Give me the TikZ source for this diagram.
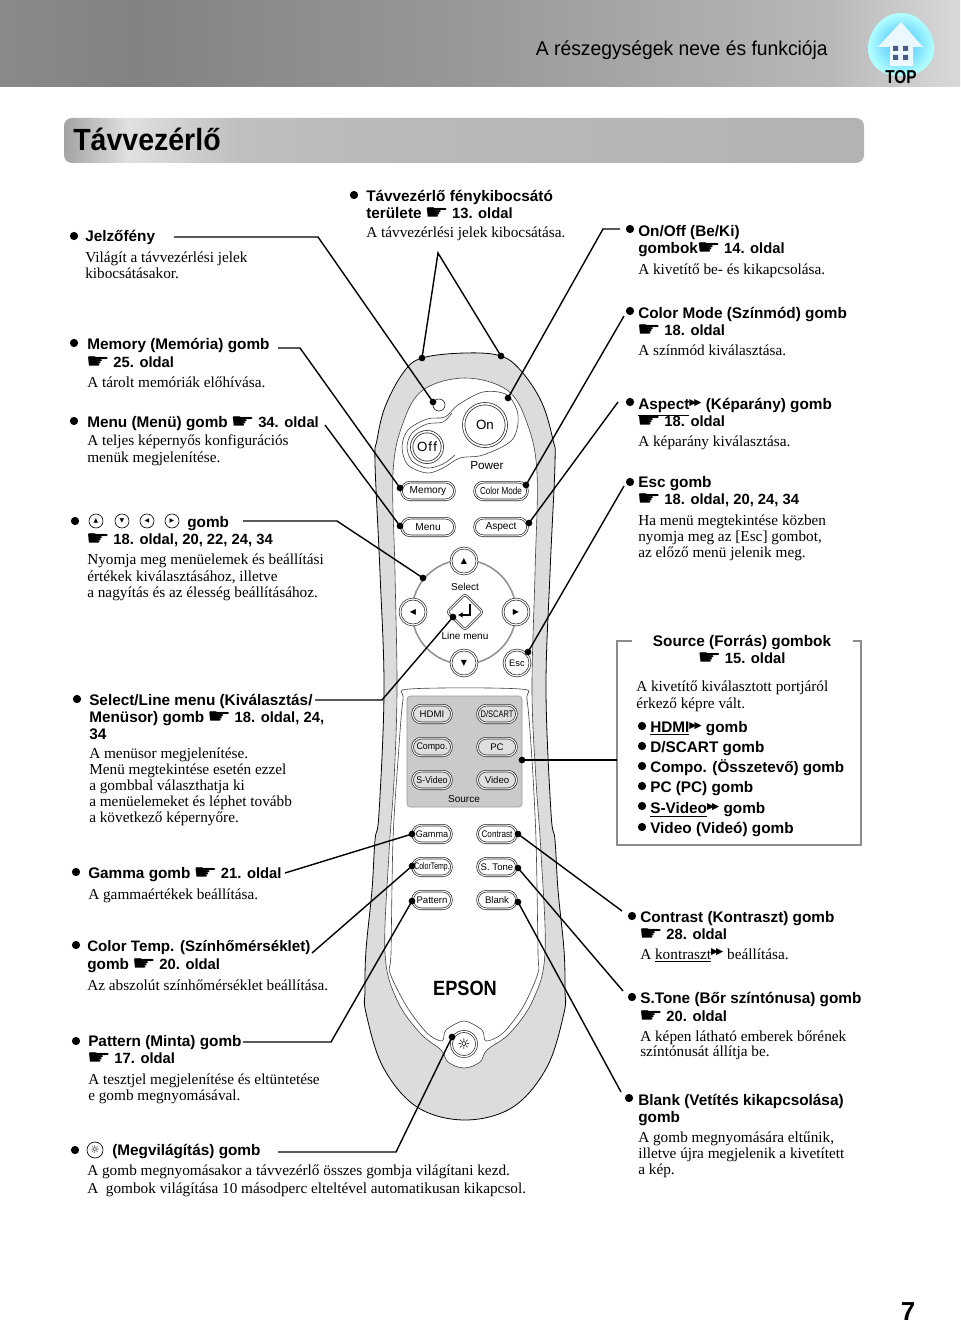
\documentclass[tikz,border=0pt]{standalone}
\usepackage{fontspec}
\usepackage{graphicx}
\usetikzlibrary{shapes.misc,shapes.geometric,arrows.meta}
\setmainfont{Liberation Sans}
\newfontfamily\serf{Liberation Serif}
\newfontfamily\symf{DejaVu Sans}
\definecolor{bodygray}{HTML}{DCDCDC}
\definecolor{panelgray}{HTML}{C9CACC}
\definecolor{boxgray}{HTML}{8C8C8C}
\pgfdeclarehorizontalshading{hdrshade}{100bp}{color(0bp)=(black!46!white); color(25bp)=(black!46!white); color(32bp)=(black!49!white); color(50bp)=(black!40!white); color(68bp)=(black!28!white); color(75bp)=(black!15!white); color(100bp)=(black!15!white)}
\pgfdeclarehorizontalshading{titleshade}{100bp}{color(0bp)=(black!36!white); color(25bp)=(black!36!white); color(29bp)=(black!12!white); color(36bp)=(black!25!white); color(43bp)=(black!27!white); color(75bp)=(black!30!white); color(100bp)=(black!30!white)}
\newcommand\hd{{\symf\fontsize{15.5}{15}\selectfont\kern-1pt\raisebox{-0.8pt}{\scalebox{1.3}[1]{☛}}\kern-0.6pt}}
\newcommand\ol[1]{{\fontsize{11.1}{13}\selectfont #1}}
\newcommand\dbl{{\symf\fontsize{7}{7}\selectfont\raisebox{3.5pt}{▶\kern-1.6pt▶}}}
\tikzset{
 x=0.75pt,y=-0.75pt,
 bd/.style={anchor=base west,inner sep=0pt,yshift=-0.6pt,font=\fontsize{11.5}{13}\selectfont\bfseries},
 sf/.style={anchor=base west,inner sep=0pt,yshift=-0.8pt,font=\serf\fontsize{11.45}{13}\selectfont},
 bullet/.style={circle,fill=black,inner sep=0pt,minimum size=6.2pt},
 pin/.style={circle,fill=black,inner sep=0pt,minimum size=5pt},
 conn/.style={line width=1.05pt,black},
 pill/.style 2 args={rounded rectangle,draw=black!85,double=white,double distance=0.8pt,line width=0.5pt,fill=#2,inner sep=0pt,minimum height=13.2pt,minimum width=#1*0.75pt,font=\fontsize{7.6}{8}\selectfont},
 smallpill/.style={font=\fontsize{7.2}{8}\selectfont},
 rbtn/.style={circle,draw=black!85,double=white,double distance=0.9pt,line width=0.5pt,fill=white,inner sep=0pt,minimum size=#1*1.5pt,font=\symf\fontsize{6}{7}\selectfont},
 mini/.style={circle,draw=black,line width=0.5pt,inner sep=0pt,minimum size=10.5pt,font=\symf\fontsize{4.5}{5}\selectfont},
 thinl/.style={line width=0.45pt,draw=black!75},
 rem/.style={inner sep=0pt,font=\fontsize{7.5}{8}\selectfont},
}
\newcommand\bt[4]{\node[bd] (#1) at (#2,#3) {#4};}
\newcommand\st[4]{\node[sf] (#1) at (#2,#3) {#4};}
\newcommand\bu[3]{\node[bullet] (#1) at (#2,#3) {};}
\newcommand\pn[3]{\node[pin] (#1) at (#2,#3) {};}
\begin{document}
\begin{tikzpicture}
\useasboundingbox (0,0) rectangle (960,1323);
% header
\shade[shading=hdrshade] (0,0) rectangle (960,87);
\node[anchor=base east,inner sep=0pt,font=\fontsize{15}{16}\selectfont] (hdr) at (828,56) {\scalebox{0.965}[1]{A részegységek neve és funkciója}};
% TOP icon
\shade[inner color=cyan!65!blue!75!white,outer color=cyan!30!white] (901,13) .. controls (922,13) and (934,34) .. (934,48) .. controls (934,66) and (920,76) .. (901,76) .. controls (882,76) and (868,66) .. (868,48) .. controls (868,34) and (880,13) .. (901,13) -- cycle;
\fill[white!92!cyan] (901,22) -- (923,47) -- (913,47) -- (913,66) -- (890,66) -- (890,47) -- (878,47) -- cycle;
\fill[cyan!40!blue!60!black] (893,46) rectangle (898,51) (903,46) rectangle (908,51) (893,55) rectangle (898,60) (903,55) rectangle (908,60);
\node[inner sep=0pt,font=\fontsize{14}{14}\selectfont\bfseries] (toplabel) at (901,77) {\scalebox{0.82}[1]{TOP}};
% title bar
\shade[shading=titleshade,rounded corners=6pt] (64,118) rectangle (864,163);
\node[anchor=base west,inner sep=0pt,font=\fontsize{23}{24}\selectfont\bfseries] (title) at (73,151) {\scalebox{0.93}[1]{Távvezérlő}};
% remote body
\draw[fill=bodygray,line width=0.6pt,draw=black] plot[smooth cycle,tension=0.6] coordinates {(465,353)(501,356)(522,372)(542,403)(553,440)(555,463)(550,573)(546,690)(551,813)(555,840)(558,890)(564,950)(565,990)(564,1013)(547,1067)(513,1107)(465,1120)(417,1107)(383,1067)(366,1013)(365,990)(366,950)(372,890)(375,840)(379,813)(384,690)(380,573)(375,463)(377,440)(385,407)(403,373)(422,358)};
\draw[fill=white,thinl] plot[smooth cycle,tension=0.6] coordinates {(465,378)(507,390)(527,423)(537,473)(535,573)(532,690)(536,780)(541,853)(545,953)(533,1000)(510,1033)(487,1050)(480,1062)(464,1068)(448,1062)(441,1050)(420,1033)(397,1000)(385,953)(389,853)(394,780)(397,690)(395,573)(393,473)(403,423)(423,390)};
\draw[fill=white,thinl] plot[smooth cycle,tension=0.5] coordinates {(464,1021)(482,1030)(486,1041)(503,1033)(523,1007)(538,973)(538,953)(536,840)(532,760)(527,700)(520,689)(410,689)(403,700)(398,760)(393,840)(391,953)(390,973)(407,1007)(427,1033)(442,1041)(446,1030)};
% power area
\draw[thinl] plot[smooth cycle,tension=0.55] coordinates {(402,447)(408,430)(427,419)(445,417)(458,405)(483,392)(507,395)(518,415)(512,440)(483,455)(460,458)(443,468)(427,473)(408,465)};
\draw[thinl] plot[smooth,tension=0.55] coordinates {(452,413)(443,422)(427,424)(412,433)(407,447)(412,461)(427,468)(443,464)(455,455)};
\node[circle,draw=black!85,line width=0.5pt,inner sep=0pt,minimum size=9pt] (led) at (439,405) {};
\node[circle,draw=black!85,double=white,double distance=1.2pt,line width=0.55pt,fill=white,inner sep=0pt,minimum size=32pt,font=\fontsize{10}{11}\selectfont] (on) at (485,425) {On};
\node[circle,draw=black!85,double=white,double distance=1.2pt,line width=0.55pt,fill=white,inner sep=0pt,minimum size=23pt,font=\fontsize{10}{11}\selectfont] (off) at (427,447) {O\kern0.8pt f\kern0.8pt f};
\node[rem,font=\fontsize{8.8}{9}\selectfont] (power) at (487,466) {Power};
\node[pill={53}{white}] (memory) at (428,491) {Memory};
\node[pill={53}{white}] (colormode) at (501,491) {\scalebox{0.8}[1]{Color Mode}};
\node[pill={53}{white}] (menu) at (428,527) {Menu};
\node[pill={53}{white}] (aspect) at (501,527) {Aspect};
% select ring
\node[circle,draw=black!42,line width=1.2pt,inner sep=0pt,minimum size=78pt] (ring) at (464,612) {};
\node[rbtn=13] (up) at (464,561) {▲};
\node[rbtn=13] (down) at (464,663) {▼};
\node[rbtn=13] (left) at (413,612) {◀};
\node[rbtn=13] (right) at (516,612) {▶};
\node[rbtn=13,font=\fontsize{7}{8}\selectfont] (esc) at (517,663) {Esc};
\node[diamond,draw=black!85,double=white,double distance=0.8pt,line width=0.5pt,fill=white,inner sep=0pt,minimum size=27pt,rounded corners=2pt] (enter) at (465,612) {};
\coordinate (ret1) at (470,604);
\coordinate (ret2) at (470,615);
\coordinate (ret3) at (458,615);
\draw[line width=1.7pt,-{Latex[length=3.5pt,width=4.5pt]}] (ret1) -- (ret2) -- (ret3);
\node[rem] (selectl) at (465,587) {Select};
\node[rem] (linemenu) at (465,636) {Line menu};
% source panel
\node[rectangle,rounded corners=2.5pt,draw=black!40,fill=panelgray,line width=0.5pt,inner sep=0pt,minimum width=86.25pt,minimum height=83.25pt] (panel) at (464.5,751.5) {};
\node[pill={39}{panelgray!60!white},smallpill] (hdmi) at (432,714) {HDMI};
\node[pill={39}{panelgray!60!white},smallpill] (dscart) at (497,714) {\scalebox{0.78}[1]{D/SCART}};
\node[pill={39}{panelgray!60!white},smallpill] (compo) at (432,747) {\scalebox{0.92}[1]{Compo.}};
\node[pill={39}{panelgray!60!white},smallpill] (pc) at (497,747) {PC};
\node[pill={39}{panelgray!60!white},smallpill] (svideo) at (432,780) {\scalebox{0.92}[1]{S-Video}};
\node[pill={39}{panelgray!60!white},smallpill] (video) at (497,780) {Video};
\node[rem] (sourcel) at (464,799) {Source};
\node[pill={39}{white},smallpill] (gamma) at (432,834) {\scalebox{0.95}[1]{Gamma}};
\node[pill={39}{white},smallpill] (contrast) at (497,834) {\scalebox{0.85}[1]{Contrast}};
\node[pill={39}{white},smallpill] (colortemp) at (432,867) {\scalebox{0.72}[1]{ColorTemp.}};
\node[pill={39}{white},smallpill] (stone) at (497,867) {S. Tone};
\node[pill={39}{white},smallpill] (pattern) at (432,900) {Pattern};
\node[pill={39}{white},smallpill] (blank) at (497,900) {Blank};
\node[inner sep=0pt,font=\fontsize{15.5}{16}\selectfont\bfseries] (epson) at (465,988) {\scalebox{0.88}[1]{EPSON}};
\node[circle,draw=black!85,double=white,double distance=1pt,line width=0.5pt,fill=white,inner sep=0pt,minimum size=19pt,font=\symf\fontsize{11}{11}\selectfont] (light) at (464,1044) {☼};
% left texts
\bu{bjel}{74}{236}\bt{jel}{85}{241}{Jelzőfény}
\st{jela}{85}{261}{Világít a távvezérlési jelek}
\st{jelb}{85}{277}{kibocsátásakor.}
\bu{bmem}{74}{343}\bt{mem}{87}{349}{Memory (Memória) gomb}
\bt{memb}{87}{367}{\hd\ \ol{25. oldal}}
\st{memc}{87}{386}{A tárolt memóriák előhívása.}
\bu{bmen}{74}{421}\bt{men}{87}{427}{Menu (Menü) gomb \hd\ \ol{34. oldal}}
\st{mena}{87}{444}{A teljes képernyős konfigurációs}
\st{menb}{87}{461}{menük megjelenítése.}
\bu{barr}{75}{521}
\node[mini] (iu) at (96,521) {▲};
\node[mini] (id) at (122,521) {▼};
\node[mini] (il) at (147,521) {◀};
\node[mini] (ir) at (172,521) {▶};
\bt{arr}{187}{527}{gomb}
\bt{arrb}{87}{544}{\hd\ \ol{18. oldal, 20, 22, 24, 34}}
\st{arrc}{87}{563}{Nyomja meg menüelemek és beállítási}
\st{arrd}{87}{580}{értékek kiválasztásához, illetve}
\st{arre}{87}{596}{a nagyítás és az élesség beállításához.}
\bu{bsel}{77}{699}\bt{sel}{89}{705}{Select/Line menu (Kiválasztás/}
\bt{selb}{89}{722}{Menüsor) gomb \hd\ \ol{18. oldal, 24,}}
\bt{selc}{89}{739}{34}
\st{seld}{89}{757}{A menüsor megjelenítése.}
\st{sele}{89}{773}{Menü megtekintése esetén ezzel}
\st{self}{89}{789}{a gombbal választhatja ki}
\st{selg}{89}{805}{a menüelemeket és léphet tovább}
\st{selh}{89}{821}{a következő képernyőre.}
\bu{bgam}{76}{872}\bt{gam}{88}{878}{Gamma gomb \hd\ \ol{21. oldal}}
\st{gama}{88}{898}{A gammaértékek beállítása.}
\bu{bct}{76}{945}\bt{ct}{87}{951}{\fontsize{11.35}{13}\selectfont Color Temp. (Színhőmérséklet)}
\bt{ctb}{87}{969}{gomb \hd\ \ol{20. oldal}}
\st{ctc}{87}{989}{Az abszolút színhőmérséklet beállítása.}
\bu{bpat}{76}{1041}\bt{pat}{88}{1046}{Pattern (Minta) gomb}
\bt{patb}{88}{1063}{\hd\ \ol{17. oldal}}
\st{patc}{88}{1083}{A tesztjel megjelenítése és eltüntetése}
\st{patd}{88}{1099}{e gomb megnyomásával.}
\bu{bill}{75}{1150}
\node[mini,font=\symf\fontsize{8}{8}\selectfont,minimum size=12pt] (iill) at (95,1150) {☼};
\bt{ill}{112}{1155}{(Megvilágítás) gomb}
\st{illa}{87}{1174}{A gomb megnyomásakor a távvezérlő összes gombja világítani kezd.}
\st{illb}{87}{1192}{A\ \ gombok világítása 10 másodperc elteltével automatikusan kikapcsol.}
% top text
\bu{btav}{354}{195}\bt{tav}{366}{201}{Távvezérlő fénykibocsátó}
\bt{tavb}{366}{218}{területe \hd\ \ol{13. oldal}}
\st{tavc}{366}{236}{A távvezérlési jelek kibocsátása.}
% right texts
\bu{bon}{630}{229}\bt{ona}{638}{236}{On/Off (Be/Ki)}
\bt{onb}{638}{253}{gombok\hd\ \ol{14. oldal}}
\st{onc}{638}{273}{A kivetítő be- és kikapcsolása.}
\bu{bcm}{630}{311}\bt{cm}{638}{318}{Color Mode (Színmód) gomb}
\bt{cmb}{638}{335}{\hd\ \ol{18. oldal}}
\st{cmc}{638}{354}{A színmód kiválasztása.}
\bu{basp}{630}{402}\bt{asp}{638}{409}{\underline{Aspect}\dbl\ (Képarány) gomb}
\bt{aspb}{638}{426}{\hd\ \ol{18. oldal}}
\st{aspc}{638}{445}{A képarány kiválasztása.}
\bu{besc}{630}{482}\bt{esca}{638}{487}{Esc gomb}
\bt{escb}{638}{504}{\hd\ \ol{18. oldal, 20, 24, 34}}
\st{escc}{638}{524}{Ha menü megtekintése közben}
\st{escd}{638}{540}{nyomja meg az [Esc] gombot,}
\st{esce}{638}{556}{az előző menü jelenik meg.}
% source box
\coordinate (sbA) at (632,641);
\coordinate (sbB) at (617,641);
\coordinate (sbC) at (617,845);
\coordinate (sbD) at (861,845);
\coordinate (sbE) at (861,641);
\coordinate (sbF) at (853,641);
\draw[boxgray,line width=2pt] (sbA) -- (sbB) -- (sbC) -- (sbD) -- (sbE) -- (sbF);
\node[anchor=base,inner sep=0pt,font=\fontsize{11.5}{13}\selectfont\bfseries] (srct) at (742,646) {Source (Forrás) gombok};
\node[anchor=base,inner sep=0pt,font=\fontsize{11.5}{13}\selectfont\bfseries] (srcb) at (742,663) {\hd\ \ol{15. oldal}};
\st{srcc}{636}{690}{A kivetítő kiválasztott portjáról}
\st{srcd}{636}{707}{érkező képre vált.}
\bu{bh}{642}{726}\bt{sh}{650}{732}{\underline{HDMI}\dbl\ gomb}
\bu{bd}{642}{746}\bt{sd}{650}{752}{D/SCART gomb}
\bu{bco}{642}{766}\bt{sco}{650}{772}{\fontsize{11.4}{13}\selectfont Compo. (Összetevő) gomb}
\bu{bpc}{642}{786}\bt{spc}{650}{792}{PC (PC) gomb}
\bu{bsv}{642}{806}\bt{ssv}{650}{813}{\underline{S-Video}\dbl\ gomb}
\bu{bvi}{642}{827}\bt{svi}{650}{833}{Video (Videó) gomb}
\bu{bcon}{632}{916}\bt{con}{640}{922}{Contrast (Kontraszt) gomb}
\bt{conb}{640}{939}{\hd\ \ol{28. oldal}}
\st{conc}{640}{958}{A \underline{kontraszt}\dbl\ beállítása.}
\bu{bst}{632}{997}\bt{ston}{640}{1003}{S.Tone (Bőr színtónusa) gomb}
\bt{stonb}{640}{1021}{\hd\ \ol{20. oldal}}
\st{stonc}{640}{1040}{A képen látható emberek bőrének}
\st{stond}{640}{1055}{színtónusát állítja be.}
\bu{bbl}{629}{1098}\bt{bla}{638}{1105}{Blank (Vetítés kikapcsolása)}
\bt{blb}{638}{1122}{gomb}
\st{blc}{638}{1141}{A gomb megnyomására eltűnik,}
\st{bld}{638}{1157}{illetve újra megjelenik a kivetített}
\st{ble}{638}{1173}{a kép.}
\node[anchor=base,inner sep=0pt,font=\fontsize{19.5}{20}\selectfont\bfseries] (pageno) at (908,1320) {7};
% connector ends
\pn{dled}{433}{402}
\pn{dt1}{422}{358}
\pn{dt2}{501}{356}
\pn{don}{508}{398}
\pn{dmem}{400}{488}
\pn{dcm}{526}{485}
\pn{dmen}{400}{526}
\pn{dasp}{529}{523}
\pn{dring}{423}{578}
\pn{dsel}{453}{617}
\pn{desc}{528}{652}
\pn{dsrc}{522}{760}
\pn{dgam}{412}{834}
\pn{dcon}{518}{834}
\pn{dct}{412}{866}
\pn{dsto}{518}{868}
\pn{dpat}{412}{901}
\pn{dbl}{518}{902}
\pn{dill}{452}{1037}
\coordinate (c1s) at (174,237); \coordinate (c1c) at (318,237);
\coordinate (apex) at (438,253);
\coordinate (c3s) at (620,229); \coordinate (c3c) at (603,229);
\coordinate (c4s) at (278,348); \coordinate (c4c) at (300,348);
\coordinate (c5s) at (325,425);
\coordinate (c6s) at (243,521); \coordinate (c6c) at (337,521);
\coordinate (c7s) at (315,700); \coordinate (c7c) at (382,700);
\coordinate (c8s) at (285,873);
\coordinate (c9s) at (312,953);
\coordinate (c10s) at (243,1042); \coordinate (c10c) at (331,1042);
\coordinate (c11s) at (278,1152); \coordinate (c11c) at (396,1152);
\coordinate (c12s) at (624,316);
\coordinate (c13s) at (618,402);
\coordinate (c14s) at (624,486);
\coordinate (c15s) at (622,911);
\coordinate (c16s) at (623,991);
\coordinate (c17s) at (621,1092);
\coordinate (c18s) at (617,760);
\draw[conn] (c1s) -- (c1c) -- (dled.center);
\draw[conn] (dt1.center) -- (apex) -- (dt2.center);
\draw[conn] (c3s) -- (c3c) -- (don.center);
\draw[conn] (c4s) -- (c4c) -- (dmem.center);
\draw[conn] (c5s) -- (dmen.center);
\draw[conn] (c6s) -- (c6c) -- (dring.center);
\draw[conn] (c7s) -- (c7c) -- (dsel.center);
\draw[conn] (c8s) -- (dgam.center);
\draw[conn] (c9s) -- (dct.center);
\draw[conn] (c10s) -- (c10c) -- (dpat.center);
\draw[conn] (c11s) -- (c11c) -- (dill.center);
\draw[conn] (c12s) -- (dcm.center);
\draw[conn] (c13s) -- (dasp.center);
\draw[conn] (c14s) -- (desc.center);
\draw[conn] (c15s) -- (dcon.center);
\draw[conn] (c16s) -- (dsto.center);
\draw[conn] (c17s) -- (dbl.center);
\draw[conn] (c18s) -- (dsrc.center);
\end{tikzpicture}
\end{document}
